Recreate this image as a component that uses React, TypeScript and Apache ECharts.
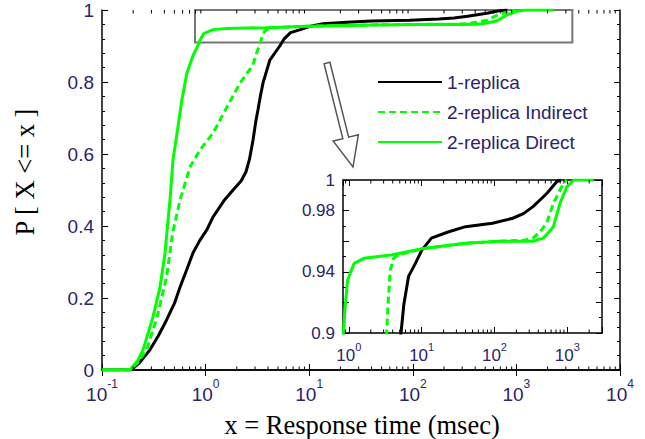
import React, { useEffect, useRef } from "react";
import * as echarts from "echarts";

// ---- data (x = response time in msec, y = cumulative probability) ----
const oneReplica: [number, number][] = [
  [0.1, 0], [0.19, 0], [0.23, 0.02], [0.29, 0.056], [0.35, 0.095], [0.42, 0.139],
  [0.5, 0.185], [0.566, 0.23], [0.66, 0.28], [0.755, 0.325], [0.88, 0.36], [1.03, 0.39],
  [1.18, 0.425], [1.5, 0.47], [1.84, 0.5], [2.2, 0.525], [2.45, 0.55], [2.65, 0.585],
  [2.87, 0.639], [3.05, 0.69], [3.2, 0.722], [3.4, 0.765], [3.58, 0.797], [4.17, 0.861],
  [5.2, 0.9], [5.7, 0.919], [6.6, 0.937], [8.2, 0.9455], [10, 0.954], [13.6, 0.962],
  [23, 0.966], [40, 0.9695], [93.5, 0.9717], [178, 0.975], [250, 0.978], [338, 0.9826],
  [519, 0.991], [716, 0.9989], [820, 1],
];
const twoReplicaIndirect: [number, number][] = [
  [0.1, 0], [0.186, 0], [0.22, 0.02], [0.27, 0.056], [0.34, 0.147], [0.42, 0.258],
  [0.48, 0.38], [0.566, 0.472], [0.71, 0.565], [0.88, 0.611], [1.18, 0.658], [1.61, 0.731],
  [2.15, 0.797], [2.6, 0.83], [2.87, 0.848], [3.1, 0.88], [3.3, 0.9], [3.45, 0.919],
  [3.7, 0.941], [4.1, 0.9488], [4.8, 0.951], [9.9, 0.955], [40, 0.9586], [116, 0.96],
  [250, 0.9605], [338, 0.962], [420, 0.966], [519, 0.9717], [645, 0.9848], [890, 0.998],
  [988, 1],
];
const twoReplicaDirect: [number, number][] = [
  [0.1, 0], [0.186, 0], [0.22, 0.025], [0.249, 0.056], [0.31, 0.147], [0.363, 0.23],
  [0.406, 0.325], [0.434, 0.417], [0.453, 0.472], [0.484, 0.583], [0.53, 0.658],
  [0.59, 0.75], [0.66, 0.825], [0.76, 0.875], [0.84, 0.9], [0.88, 0.915], [0.96, 0.9346],
  [1.18, 0.9455], [1.6, 0.9488], [3.8, 0.951], [9.9, 0.955], [40, 0.9586], [116, 0.96],
  [338, 0.96], [468, 0.962], [560, 0.966], [645, 0.9695], [795, 0.9848], [988, 0.9957],
  [1230, 1], [2300, 1],
];
const seriesNames = ["1-replica", "2-replica Indirect", "2-replica Direct"];
const mainXRange = [0.1, 10000];
const mainYRange = [0, 1];
const insetXRange = [0.83, 3000];
const insetYRange = [0.9, 1];
const insetYLabels = [0.9, 0.94, 0.98, 1];
const zoomBox = [0.79, 0.91, 3470, 1]; // x0, y0, x1, y1
const xTitle = "x = Response time (msec)";
const yTitle = "P [ X <= x ]";

const LABEL_COLOR = "#2a2468";
const GREEN = "#00ff00";

function minorLogTicks(lo: number, hi: number): number[] {
  const out: number[] = [];
  for (let k = -2; k <= 4; k++) {
    for (let m = 2; m <= 9; m++) {
      const v = m * Math.pow(10, k);
      if (v > lo * 1.001 && v < hi * 0.999) out.push(v);
    }
  }
  return out;
}

function powLabel(v: number) {
  const e = Math.log10(v);
  const r = Math.round(e);
  if (Math.abs(e - r) > 1e-6) return "";
  return `{b|10}{s|${r}}`;
}

export default function App() {
  const ref = useRef<HTMLDivElement>(null);
  useEffect(() => {
    if (!ref.current) return;
    const chart = echarts.init(ref.current, undefined, { renderer: "svg" });
    const font = "'Liberation Sans', Arial, sans-serif";
    const richMain = {
      b: { fontSize: 19, fontFamily: font, color: LABEL_COLOR, verticalAlign: "bottom", lineHeight: 26 },
      s: { fontSize: 12, fontFamily: font, color: LABEL_COLOR, verticalAlign: "top", lineHeight: 12 },
    };
    const richInset = {
      b: { fontSize: 17, fontFamily: font, color: LABEL_COLOR, verticalAlign: "bottom", lineHeight: 23 },
      s: { fontSize: 11, fontFamily: font, color: LABEL_COLOR, verticalAlign: "top", lineHeight: 11 },
    };
    const axLine = { show: true, lineStyle: { color: "#000", width: 1.5 } };

    const mkX = (grid: number, range: number[], pos: "bottom" | "top", rich: any, showLabel: boolean) => ({
      type: "log",
      logBase: 10,
      gridIndex: grid,
      position: pos,
      min: range[0],
      max: range[1],
      axisLine: axLine,
      axisTick: { show: true, inside: true, length: 6, lineStyle: { color: "#000" } },
      splitLine: { show: false },
      axisLabel: {
        show: showLabel,
        margin: 8,
        formatter: powLabel,
        rich,
        showMinLabel: true,
        showMaxLabel: true,
      },
    });
    const mkY = (grid: number, range: number[], pos: "left" | "right", interval: number, showLabel: boolean, fontSize: number, filter?: number[]) => ({
      type: "value",
      gridIndex: grid,
      position: pos,
      min: range[0],
      max: range[1],
      interval,
      axisLine: axLine,
      axisTick: { show: true, inside: true, length: 6, lineStyle: { color: "#000" } },
      minorTick: { show: true, splitNumber: filter ? 2 : 5, length: 3, lineStyle: { color: "#000" } },
      splitLine: { show: false },
      axisLabel: {
        show: showLabel,
        margin: 8,
        fontSize,
        fontFamily: font,
        color: LABEL_COLOR,
        formatter: (v: number) => {
          const t = parseFloat(v.toFixed(4));
          if (filter && !filter.some((f) => Math.abs(f - t) < 1e-6)) return "";
          return String(t);
        },
      },
    });

    const mkLine = (name: string, data: [number, number][], grid: number, dashed: boolean, color: string, extra: any = {}) => ({
      type: "line",
      name,
      data,
      xAxisIndex: grid * 2,
      yAxisIndex: grid * 2,
      symbol: "none",
      clip: true,
      lineStyle: { color, width: 3, type: dashed ? [7, 4] : "solid" },
      itemStyle: { color },
      z: 3,
      ...extra,
    });

    const tickSeries = (grid: number, xr: number[], yr: number[]) => ({
      type: "custom",
      xAxisIndex: grid * 2,
      yAxisIndex: grid * 2,
      silent: true,
      z: 5,
      encode: { x: 0, y: 1 },
      data: minorLogTicks(xr[0], xr[1]).map((v) => [v, yr[0]]),
      renderItem: (_p: any, api: any) => {
        const x = api.value(0);
        const a = api.coord([x, yr[0]]);
        const b = api.coord([x, yr[1]]);
        return {
          type: "group",
          children: [
            { type: "line", shape: { x1: a[0], y1: a[1], x2: a[0], y2: a[1] - 3.5 }, style: { stroke: "#000", lineWidth: 1 } },
            { type: "line", shape: { x1: b[0], y1: b[1], x2: b[0], y2: b[1] + 3.5 }, style: { stroke: "#000", lineWidth: 1 } },
          ],
        };
      },
    });

    // arrow (decoration)
    const tip = [353, 167];
    const tail = [327, 63];
    const dx = tip[0] - tail[0], dy = tip[1] - tail[1];
    const L = Math.hypot(dx, dy);
    const d = [dx / L, dy / L];
    const n = [d[1], -d[0]];
    const base = [tip[0] - 30 * d[0], tip[1] - 30 * d[1]];
    const pt = (c: number[], s: number) => [c[0] + s * n[0], c[1] + s * n[1]];
    const arrowPts = [pt(tail, 3), pt(base, 3), pt(base, 13), tip, pt(base, -13), pt(base, -3), pt(tail, -3)];

    chart.setOption({
      animation: false,
      backgroundColor: "#fff",
      grid: [
        { left: 102, top: 10, right: 25, bottom: 69, outerBoundsMode: "none" },
        { left: 343, top: 180, width: 259, height: 153, outerBoundsMode: "none", show: true, backgroundColor: "#fff", borderWidth: 0, z: 4 },
      ],
      xAxis: [
        mkX(0, mainXRange, "bottom", richMain, true),
        mkX(0, mainXRange, "top", richMain, false),
        { ...mkX(1, insetXRange, "bottom", richInset, true), z: 6 },
        { ...mkX(1, insetXRange, "top", richInset, false), z: 6 },
      ],
      yAxis: [
        mkY(0, mainYRange, "left", 0.2, true, 19),
        mkY(0, mainYRange, "right", 0.2, false, 19),
        { ...mkY(1, insetYRange, "left", 0.02, true, 17, insetYLabels), z: 6 },
        { ...mkY(1, insetYRange, "right", 0.02, false, 17, insetYLabels), z: 6 },
      ],
      legend: {
        data: seriesNames,
        orient: "vertical",
        left: 372,
        top: 66,
        itemWidth: 64,
        itemHeight: 2,
        itemGap: 8,
        itemStyle: { opacity: 0 },
        textStyle: { fontSize: 19, fontFamily: font, color: LABEL_COLOR, lineHeight: 22 },
        selectedMode: false,
      },
      series: [
        mkLine(seriesNames[0], oneReplica, 0, false, "#000", {
          markArea: {
            silent: true,
            itemStyle: { color: "rgba(0,0,0,0)", borderColor: "#777", borderWidth: 2 },
            data: [[{ coord: [zoomBox[0], zoomBox[1]] }, { coord: [zoomBox[2], zoomBox[3]] }]],
          },
        }),
        mkLine(seriesNames[1], twoReplicaIndirect, 0, true, GREEN),
        mkLine(seriesNames[2], twoReplicaDirect, 0, false, GREEN),
        tickSeries(0, mainXRange, mainYRange),
        mkLine(seriesNames[0], oneReplica, 1, false, "#000", { z: 7 }),
        mkLine(seriesNames[1], twoReplicaIndirect, 1, true, GREEN, { z: 7 }),
        mkLine(seriesNames[2], twoReplicaDirect, 1, false, GREEN, { z: 7 }),
        { ...tickSeries(1, insetXRange, insetYRange), z: 8 },
      ],
      graphic: [
        {
          type: "polygon",
          shape: { points: arrowPts },
          style: { fill: "#fff", stroke: "#555", lineWidth: 1.5 },
          z: 10,
        },
        {
          type: "text",
          x: 362,
          y: 425,
          style: { text: xTitle, fontFamily: "'Liberation Serif', 'Times New Roman', serif", fontSize: 26.5, fill: "#000", align: "center", verticalAlign: "middle" },
        },
        {
          type: "text",
          x: 25,
          y: 172,
          rotation: Math.PI / 2,
          style: { text: yTitle, fontFamily: "'Liberation Serif', 'Times New Roman', serif", fontSize: 26.5, fill: "#000", align: "center", verticalAlign: "middle" },
        },
      ],
    });
    return () => chart.dispose();
  }, []);
  return <div ref={ref} style={{ position: "fixed", left: 0, top: 0, width: 645, height: 439 }} />;
}
